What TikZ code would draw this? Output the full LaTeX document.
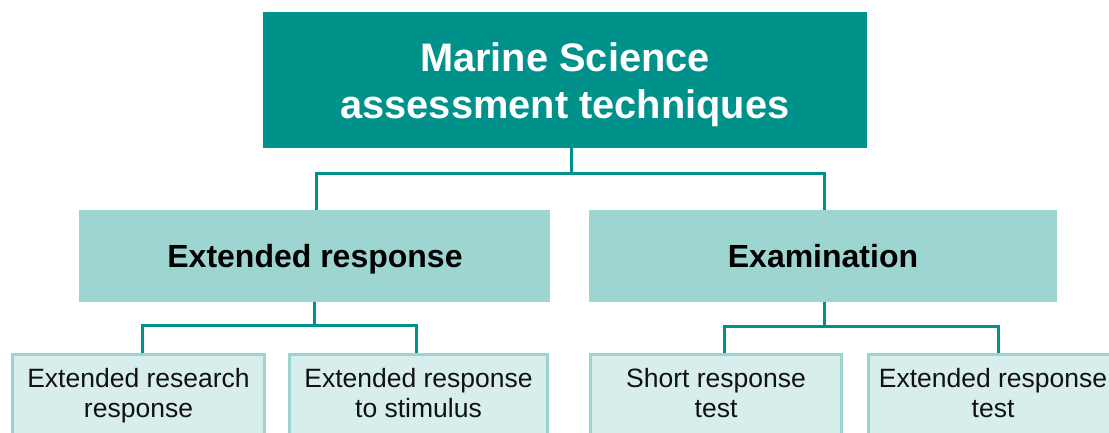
\documentclass[tikz,border=0pt]{standalone}
\usepackage{fontspec}
\setmainfont{Liberation Sans}
\definecolor{teal}{HTML}{00928A}
\definecolor{midfill}{HTML}{9DD5D1}
\definecolor{lowfill}{HTML}{D8EEEC}
\definecolor{lowedge}{HTML}{9CD4D0}
\definecolor{ink}{HTML}{111111}
% strut: fixed height 0.73em, depth 0.21em
\newcommand{\boxstrut}{\rule[-0.21em]{0pt}{0.94em}}
\begin{document}
\begin{tikzpicture}[x=1pt,y=-1pt,
  topbox/.style={fill=teal,draw=none,inner sep=0,outer sep=0},
  midbox/.style={fill=midfill,draw=none,inner sep=0,outer sep=0,minimum height=92pt},
  lowbox/.style={fill=lowfill,draw=lowedge,line width=3pt,inner sep=0,minimum height=103pt},
  toptext/.style={text=white,align=center,inner sep=0,font=\fontsize{39.8}{47}\selectfont\bfseries},
  midtext/.style={text=black,inner sep=0,font=\fontsize{32}{37}\selectfont\bfseries},
  lowtext/.style={text=ink,align=center,inner sep=0,font=\fontsize{26.5}{30}\selectfont},
  conn/.style={draw=teal,line width=3pt}]
\useasboundingbox (0,0) rectangle (1109,433);
\clip (0,0) rectangle (1109,433);
\fill[white] (0,0) rectangle (1109,433);

% boxes
\node[topbox,minimum width=604pt,minimum height=136pt] (top) at (565,80) {};
\node[midbox,minimum width=471pt] (er) at (314.5,256) {};
\node[midbox,minimum width=468pt] (ex) at (823,256) {};
\node[lowbox,minimum width=252pt] (b1) at (138.5,405.5) {};
\node[lowbox,minimum width=258pt] (b2) at (418.5,405.5) {};
\node[lowbox,minimum width=251pt] (b3) at (716,405.5) {};
\node[lowbox,minimum width=249pt] (b4) at (993,405.5) {};

% connectors
\draw[conn] ([xshift=6pt]top.south) -- ++(0,25.5) coordinate (tj);
\draw[conn] ([xshift=1.5pt]er.north) |- (tj) -| ([xshift=1pt]ex.north);
\draw[conn] (er.south) -- ++(0,23.5) coordinate (ej);
\draw[conn] ([xshift=3.5pt]b1.north) |- (ej) -| ([xshift=-2.5pt]b2.north);
\draw[conn] ([xshift=1pt]ex.south) -- ++(0,24) coordinate (xj);
\draw[conn] ([xshift=8pt]b3.north) |- (xj) -| ([xshift=5pt]b4.north);

% labels
\node[toptext] (ttop) at (565,84.2) {\boxstrut Marine Science\\\boxstrut assessment techniques};
\node[midtext] (ter) at (315,258.7) {\boxstrut Extended response};
\node[midtext] (tex) at (823,258.7) {\boxstrut Examination};
\node[lowtext] (t1) at (138.5,396.1) {\boxstrut Extended research\\\boxstrut response};
\node[lowtext] (t2) at (418.5,396.1) {\boxstrut Extended response\\\boxstrut to stimulus};
\node[lowtext] (t3) at (716,396.1) {\boxstrut Short response\\\boxstrut test};
\node[lowtext] (t4) at (993,396.1) {\boxstrut Extended response\\\boxstrut test};
\end{tikzpicture}
\end{document}
